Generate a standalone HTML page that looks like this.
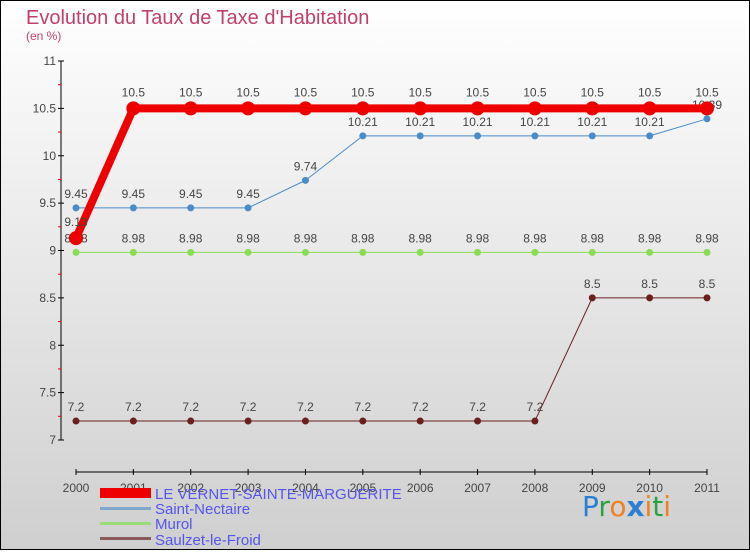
<!DOCTYPE html>
<html><head><meta charset="utf-8"><style>
body{margin:0}
#c{width:750px;height:550px;position:relative;font-family:"Liberation Sans",sans-serif}
</style></head><body>
<div id="c">
<svg id="s" width="750" height="550" xmlns="http://www.w3.org/2000/svg">
<defs><linearGradient id="bg" x1="0" y1="0" x2="0" y2="1"><stop offset="0" stop-color="#ffffff"/><stop offset="1" stop-color="#cfcfcf"/></linearGradient></defs>
<rect x="0.5" y="0.5" width="749" height="549" fill="url(#bg)" stroke="#000"/>
<text x="26" y="24" font-size="20" fill="#c0406a">Evolution du Taux de Taxe d'Habitation</text>
<text x="26" y="40" font-size="12" fill="#c0406a">(en %)</text>
<g id="axes"></g><g id="series"></g>
<g font-size="15" fill="#5555ee">
<rect x="100" y="488" width="51" height="10" fill="#e00"/>
<text x="155" y="499">LE VERNET-SAINTE-MARGUERITE</text>
<rect x="100" y="507" width="51" height="3" fill="#7fa8cc"/>
<text x="155" y="514">Saint-Nectaire</text>
<rect x="100" y="522" width="51" height="3" fill="#99dd77"/>
<text x="155" y="529">Murol</text>
<rect x="100" y="537" width="51" height="3" fill="#8a5a5a"/>
<text x="155" y="545">Saulzet-le-Froid</text>
</g>
<g font-size="28" font-family="'DejaVu Sans',sans-serif">
<text x="582" y="516"><tspan fill="#2a7fd4">P</tspan><tspan fill="#2aa040">r</tspan><tspan fill="#f08020">o</tspan><tspan fill="#2a7fd4" font-weight="bold">x</tspan><tspan fill="#f08020">i</tspan><tspan fill="#2aa040">t</tspan><tspan fill="#f08020">i</tspan></text>
</g>
</svg></div>
<script>
const years=[2000,2001,2002,2003,2004,2005,2006,2007,2008,2009,2010,2011];
const yTicks=[7,7.5,8,8.5,9,9.5,10,10.5,11];
const vernet=[9.13,10.5,10.5,10.5,10.5,10.5,10.5,10.5,10.5,10.5,10.5,10.5];
const nectaire=[9.45,9.45,9.45,9.45,9.74,10.21,10.21,10.21,10.21,10.21,10.21,10.39];
const murol=[8.98,8.98,8.98,8.98,8.98,8.98,8.98,8.98,8.98,8.98,8.98,8.98];
const saulzet=[7.2,7.2,7.2,7.2,7.2,7.2,7.2,7.2,7.2,7.2,7.2,7.2].map((v,i)=>i>=9?8.5:v);
const NS="http://www.w3.org/2000/svg";
const X=i=>76+i*(707-76)/11;
const Y=v=>440-(v-7)*(440-61)/4;
function mk(t,a,p){const e=document.createElementNS(NS,t);for(const k in a)e.setAttribute(k,a[k]);p.appendChild(e);return e;}
const ax=document.getElementById('axes');
let e=mk('line',{x1:61,y1:61,x2:61,y2:440,stroke:'#000'},ax);


e=mk('line',{x1:76,y1:472,x2:707,y2:472,stroke:'#000'},ax);


yTicks.forEach(v=>{
 mk('line',{x1:58,y1:Y(v),x2:64,y2:Y(v),stroke:'#000'},ax);
 if(v<11){mk('line',{x1:58,y1:Y(v+0.25),x2:61,y2:Y(v+0.25),stroke:'#e00'},ax);}
 const t=mk('text',{x:56,y:Y(v)+4,'text-anchor':'end','font-size':12,fill:'#444'},ax);
 t.textContent=String(v);
 
 
});
years.forEach((y,i)=>{
 mk('line',{x1:X(i),y1:469,x2:X(i),y2:475,stroke:'#000'},ax);
 const t=mk('text',{x:X(i),y:492,'text-anchor':'middle','font-size':12,fill:'#444'},ax);
 t.textContent=String(y);
 
 
});
const sg=document.getElementById('series');
function series(vals,color,w,r,name,labelDy){
 const g=mk('g',{},sg);
 
 
 mk('polyline',{points:vals.map((v,i)=>X(i)+','+Y(v)).join(' '),fill:'none',stroke:color,'stroke-width':w,'stroke-linejoin':'round'},g);
 vals.forEach((v,i)=>{
  const c=mk('circle',{cx:X(i),cy:Y(v),r:r,fill:color},g);
  
  
  const t=mk('text',{x:X(i),y:Y(v)+labelDy,'text-anchor':'middle','font-size':12,fill:'#444'},g);
  t.textContent=String(v);
 });
}
series(saulzet,'#6b2020',1,3.5,'series-saulzet',-10);
series(murol,'#88dd55',1,3.5,'series-murol',-10);
series(nectaire,'#4a8cc8',1,3.5,'series-saint-nectaire',-10);
series(vernet,'#ee0000',8,7,'series-vernet',-12);
</script>
</body></html>
